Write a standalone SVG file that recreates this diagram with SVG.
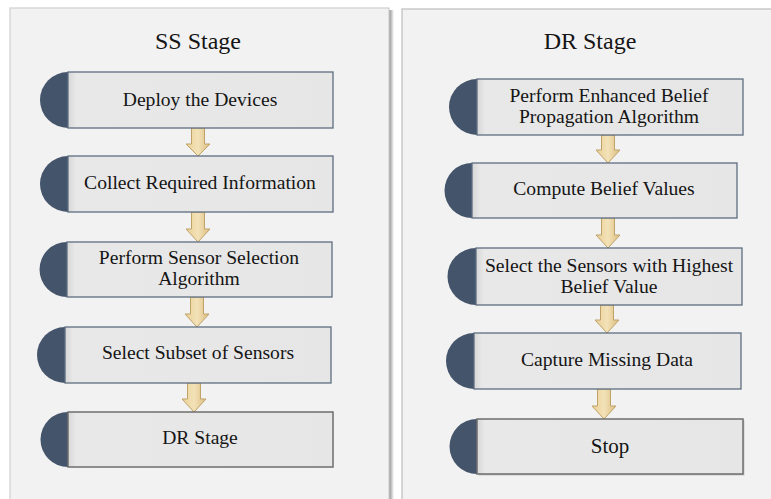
<svg xmlns="http://www.w3.org/2000/svg" width="771" height="499" viewBox="0 0 771 499">
<style>
.panel{fill:#f2f2f2;stroke:#cfcfcf;stroke-width:1.2}
.box{fill:url(#bg);stroke:#5f6e82;stroke-width:1.3}
.box2{fill:url(#bg);stroke:#6e6e6e;stroke-width:1.5}
.cap{fill:#44546a}
.t{font-family:"Liberation Serif","Times New Roman",serif;font-size:19.6px;fill:#151515;text-anchor:middle}
.title{font-family:"Liberation Serif","Times New Roman",serif;font-size:24px;fill:#151515;text-anchor:middle}
.arr{fill:url(#ag);stroke:#bfa268;stroke-width:1}
</style>
<defs>
<linearGradient id="bg" x1="0" y1="0" x2="1" y2="0">
<stop offset="0" stop-color="#d6d6d6"/>
<stop offset="0.03" stop-color="#e8e8e8"/>
<stop offset="1" stop-color="#e6e6e6"/>
</linearGradient>
<linearGradient id="ag" x1="0" y1="0" x2="1" y2="0">
<stop offset="0" stop-color="#e9cf95"/>
<stop offset="0.5" stop-color="#f3e2b8"/>
<stop offset="1" stop-color="#dcbd7f"/>
</linearGradient>
<linearGradient id="sh" x1="0" y1="0" x2="1" y2="0">
<stop offset="0" stop-color="#8a8a8a"/>
<stop offset="1" stop-color="#ffffff"/>
</linearGradient>
</defs>
<rect x="0" y="0" width="771" height="499" fill="#ffffff"/>
<g id="panel-ss">
<rect x="389" y="10" width="5" height="489" fill="url(#sh)"/>
<rect class="panel" x="10" y="8" width="379" height="500"/>
<text class="title" x="198" y="49">SS Stage</text>
</g>
<g id="panel-dr">
<rect class="panel" x="402" y="9" width="380" height="500" style="stroke:#bdbdbd"/>
<text class="title" x="590" y="49">DR Stage</text>
</g>
<g id="connectors">
<path class="arr" d="M191.5,128 H204.5 V144 H210 L198,156 L186,144 H191.5 Z"/>
<path class="arr" d="M191.5,212 H204.5 V229 H210 L198,242 L186,229 H191.5 Z"/>
<path class="arr" d="M190.5,297 H203.5 V314 H209 L197,327 L185,314 H190.5 Z"/>
<path class="arr" d="M187.5,383 H200.5 V399 H206 L194,412 L182,399 H187.5 Z"/>
<path class="arr" d="M601.5,135 H614.5 V150 H620 L608,163 L596,150 H601.5 Z"/>
<path class="arr" d="M601.5,218 H614.5 V235 H620 L608,248 L596,235 H601.5 Z"/>
<path class="arr" d="M600.5,305 H613.5 V320 H619 L607,333 L595,320 H600.5 Z"/>
<path class="arr" d="M597.5,389 H610.5 V406 H616 L604,419 L592,406 H597.5 Z"/>
</g>
<g id="n-deploy">
<path class="cap" d="M68,72 A28,28 0 0 0 68,128 Z"/>
<rect class="box" x="68" y="72" width="265" height="56"/>
<text class="t" x="200" y="106">Deploy the Devices</text>
</g>
<g id="n-collect">
<path class="cap" d="M68,156 A28,28 0 0 0 68,212 Z"/>
<rect class="box" x="68" y="156" width="265" height="56"/>
<text class="t" x="200" y="189">Collect Required Information</text>
</g>
<g id="n-perform">
<path class="cap" d="M67,242 A27.5,27.5 0 0 0 67,297 Z"/>
<rect class="box" x="67" y="242" width="265" height="55"/>
<text class="t" x="199" y="264">Perform Sensor Selection</text>
<text class="t" x="199" y="285">Algorithm</text>
</g>
<g id="n-subset">
<path class="cap" d="M65,327 A28,28 0 0 0 65,383 Z"/>
<rect class="box" x="65" y="327" width="266" height="56"/>
<text class="t" x="198" y="359">Select Subset of Sensors</text>
</g>
<g id="n-drstage">
<path class="cap" d="M68,412 A27.5,27.5 0 0 0 68,467 Z"/>
<rect class="box2" x="68" y="412" width="265" height="55"/>
<text class="t" x="200" y="444">DR Stage</text>
</g>
<g id="n-ebp">
<path class="cap" d="M477,79 A28,28 0 0 0 477,135 Z"/>
<rect class="box" x="477" y="79" width="266" height="56"/>
<text class="t" x="609" y="102">Perform Enhanced Belief</text>
<text class="t" x="609" y="123">Propagation Algorithm</text>
</g>
<g id="n-compute">
<path class="cap" d="M472,163 A27.5,27.5 0 0 0 472,218 Z"/>
<rect class="box" x="472" y="163" width="265" height="55"/>
<text class="t" x="604" y="195">Compute Belief Values</text>
</g>
<g id="n-select">
<path class="cap" d="M476,248 A28.5,28.5 0 0 0 476,305 Z"/>
<rect class="box" x="476" y="248" width="266" height="57"/>
<text class="t" x="609" y="272">Select the Sensors with Highest</text>
<text class="t" x="609" y="293">Belief Value</text>
</g>
<g id="n-capture">
<path class="cap" d="M474,333 A28,28 0 0 0 474,389 Z"/>
<rect class="box" x="474" y="333" width="267" height="56"/>
<text class="t" x="607" y="366">Capture Missing Data</text>
</g>
<g id="n-stop">
<path class="cap" d="M477,419 A27.5,27.5 0 0 0 477,474 Z"/>
<rect x="478.5" y="420.5" width="266" height="55" fill="#c8c8c8"/>
<rect class="box2" x="477" y="419" width="266" height="55"/>
<text class="t" x="610" y="453" style="font-size:21px">Stop</text>
</g>
</svg>
